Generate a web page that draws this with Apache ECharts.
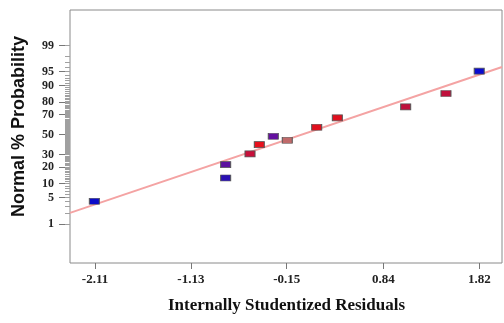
<!DOCTYPE html>
<html>
<head>
<meta charset="utf-8">
<script src="https://cdn.jsdelivr.net/npm/echarts@6/dist/echarts.min.js"></script>
<style>
html,body{margin:0;padding:0;background:#fff;}
#chart{width:504px;height:323px;}
</style>
</head>
<body>
<div id="chart"></div>
<script>
// ---- data ----
var residuals = [-2.117, -0.774, -0.774, -0.525, -0.430, -0.287, -0.144, 0.157, 0.368, 1.067, 1.479, 1.819];
var probabilities = [4.1, 12.9, 21.7, 30.7, 39.7, 48.2, 44.1, 57.6, 66.9, 76.5, 85.8, 95.1];
var pointColors = ['#0b0bc8', '#2a10b4', '#5c10a0', '#c8103a', '#e8101c', '#6410a0', '#c06a6a', '#e0101e', '#e0101e', '#c0103c', '#c0103c', '#0b0bd0'];
var lineResiduals = [-2.366, 2.052];
var lineProbabilities = [2.05, 96.1];
var xTickLabels = [-2.11, -1.13, -0.15, 0.84, 1.82];
var yTickLabels = [1, 5, 10, 20, 30, 50, 70, 80, 90, 95, 99];
var yMinorTicks = [];
for (var k = 1; k <= 99; k++) yMinorTicks.push(k);
var xTitle = 'Internally Studentized Residuals';
var yTitle = 'Normal % Probability';

// inverse normal CDF (Acklam) to build the probability scale
function probit(p) {
  var a = [-3.969683028665376e+01, 2.209460984245205e+02, -2.759285104469687e+02, 1.383577518672690e+02, -3.066479806614716e+01, 2.506628277459239e+00];
  var b = [-5.447609879822406e+01, 1.615858368580409e+02, -1.556989798598866e+02, 6.680131188771972e+01, -1.328068155288572e+01];
  var c = [-7.784894002430293e-03, -3.223964580411365e-01, -2.400758277161838e+00, -2.549732539343734e+00, 4.374664141464968e+00, 2.938163982698783e+00];
  var d = [7.784695709041462e-03, 3.224671290700398e-01, 2.445134137142996e+00, 3.754408661907416e+00];
  var pl = 0.02425, q, r;
  if (p < pl) {
    q = Math.sqrt(-2 * Math.log(p));
    return (((((c[0]*q+c[1])*q+c[2])*q+c[3])*q+c[4])*q+c[5]) / ((((d[0]*q+d[1])*q+d[2])*q+d[3])*q+1);
  } else if (p <= 1 - pl) {
    q = p - 0.5; r = q*q;
    return (((((a[0]*r+a[1])*r+a[2])*r+a[3])*r+a[4])*r+a[5])*q / (((((b[0]*r+b[1])*r+b[2])*r+b[3])*r+b[4])*r+1);
  } else {
    q = Math.sqrt(-2 * Math.log(1 - p));
    return -(((((c[0]*q+c[1])*q+c[2])*q+c[3])*q+c[4])*q+c[5]) / ((((d[0]*q+d[1])*q+d[2])*q+d[3])*q+1);
  }
}
function z(pct) { return probit(pct / 100); }

var yMajorZ = yTickLabels.map(z);
var yMinorZ = yMinorTicks.map(z);

var scatterData = residuals.map(function (x, i) {
  return { value: [x, z(probabilities[i])], itemStyle: { color: pointColors[i] } };
});
var lineData = lineResiduals.map(function (x, i) { return [x, z(lineProbabilities[i])]; });

var serifBold = { fontFamily: '"Liberation Serif", "Times New Roman", serif', fontWeight: 'bold' };

var chart = echarts.init(document.getElementById('chart'), null, { renderer: 'canvas' });
chart.setOption({
  animation: false,
  backgroundColor: '#fff',
  grid: { left: 70, right: 2, top: 10, bottom: 60, show: true, borderColor: '#8a8a8a', borderWidth: 1, backgroundColor: 'transparent' },
  graphic: [{
    type: 'text', left: 168, top: 297,
    style: { text: xTitle, fontSize: 17, fontWeight: 'bold', fontFamily: '"Liberation Serif", "Times New Roman", serif', fill: '#111' }
  }, {
    type: 'text', x: 10, y: 217, rotation: Math.PI / 2,
    style: { text: yTitle, fontSize: 18, fontWeight: 'bold', fontFamily: '"Liberation Sans", Arial, sans-serif', fill: '#111' }
  }],
  xAxis: {
    type: 'value', min: -2.366, max: 2.052,
    axisLine: { show: false, onZero: false },
    splitLine: { show: false },
    axisTick: { show: true, inside: false, length: 6, lineStyle: { color: '#777' }, customValues: xTickLabels },
    axisLabel: Object.assign({ customValues: xTickLabels, fontSize: 13, color: '#222', margin: 10,
      formatter: function (v) { return v.toFixed(2); } }, serifBold)
  },
  yAxis: [{
    type: 'value', min: -3.35, max: 3.25,
    axisLine: { show: false, onZero: false },
    splitLine: { show: false },
    axisTick: { show: true, inside: false, length: 11, lineStyle: { color: '#777' }, customValues: yMajorZ },
    axisLabel: Object.assign({ customValues: yMajorZ, fontSize: 12, color: '#222', margin: 16,
      formatter: function (v) {
        var best = 0, bd = 1e9;
        for (var i = 0; i < yMajorZ.length; i++) { var dd = Math.abs(yMajorZ[i] - v); if (dd < bd) { bd = dd; best = i; } }
        return String(yTickLabels[best]);
      } }, serifBold)
  }, {
    type: 'value', min: -3.35, max: 3.25, position: 'left', offset: 0,
    axisLine: { show: false, onZero: false },
    splitLine: { show: false },
    axisLabel: { show: false },
    axisTick: { show: true, inside: false, length: 5, lineStyle: { color: '#a0a0a0' }, customValues: yMinorZ }
  }],
  series: [{
    type: 'line',
    data: lineData,
    showSymbol: false,
    lineStyle: { color: '#f4a3a3', width: 2 },
    z: 2
  }, {
    type: 'scatter',
    data: scatterData,
    symbol: 'rect',
    symbolSize: [10, 6],
    itemStyle: { borderColor: '#555', borderWidth: 0.8, opacity: 1 },
    z: 3
  }]
});
</script>
</body>
</html>
